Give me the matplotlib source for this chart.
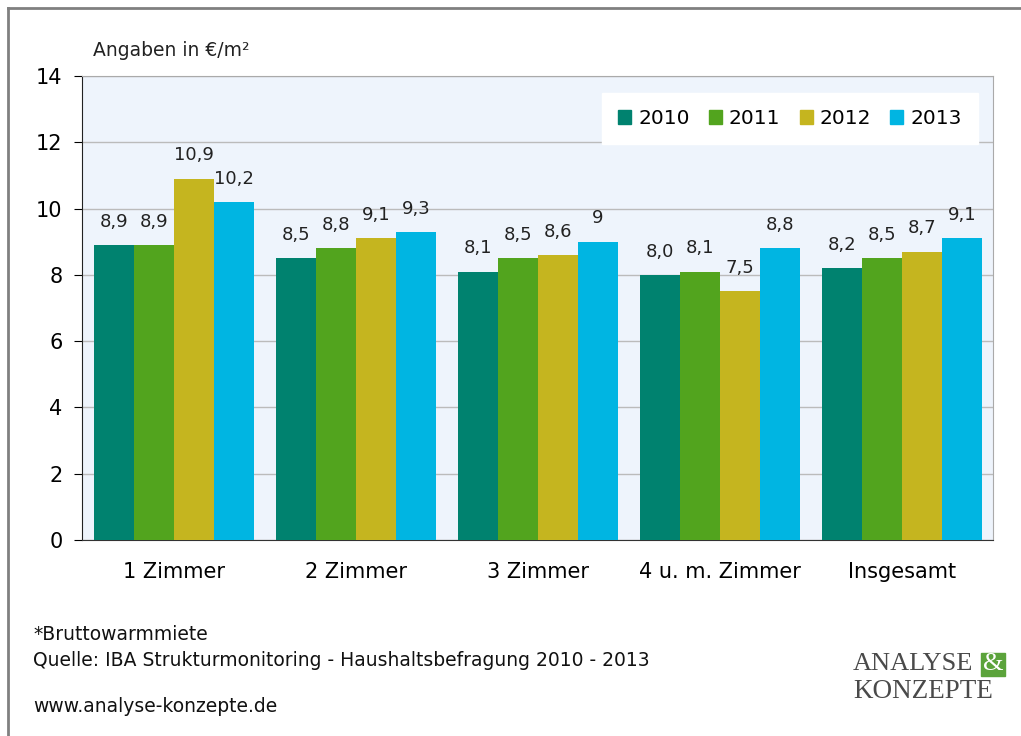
import numpy as np
import matplotlib.pyplot as plt
from matplotlib.patches import Rectangle
from matplotlib.lines import Line2D

categories = ['1 Zimmer', '2 Zimmer', '3 Zimmer', '4 u. m. Zimmer', 'Insgesamt']
years = ['2010', '2011', '2012', '2013']
v2010 = [8.9, 8.5, 8.1, 8.0, 8.2]
v2011 = [8.9, 8.8, 8.5, 8.1, 8.5]
v2012 = [10.9, 9.1, 8.6, 7.5, 8.7]
v2013 = [10.2, 9.3, 9.0, 8.8, 9.1]
labels2010 = ['8,9', '8,5', '8,1', '8,0', '8,2']
labels2011 = ['8,9', '8,8', '8,5', '8,1', '8,5']
labels2012 = ['10,9', '9,1', '8,6', '7,5', '8,7']
labels2013 = ['10,2', '9,3', '9', '8,8', '9,1']
colors = ['#00826F', '#52A41E', '#C5B51F', '#00B5E2']

plt.rcParams['font.family'] = 'DejaVu Sans'

fig = plt.figure(figsize=(10.21, 7.36), dpi=100)
ax = fig.add_axes([82 / 1021, 1 - 540 / 736, (993 - 82) / 1021, (540 - 76) / 736])
ax.set_facecolor('#EEF4FC')

x = np.arange(len(categories))
w = 0.22
series = [v2010, v2011, v2012, v2013]
series_labels = [labels2010, labels2011, labels2012, labels2013]
for i, (vals, labs) in enumerate(zip(series, series_labels)):
    pos = x + (i - 1.5) * w
    ax.bar(pos, vals, w, color=colors[i], label=years[i], zorder=3)
    for p, v, t in zip(pos, vals, labs):
        ax.text(p, v + 0.43, t, ha='center', va='bottom', fontsize=13, color='#222222')

ax.set_xlim(-0.505, 4.5)
ax.set_ylim(0, 14)
ax.set_yticks(range(0, 15, 2))
ax.set_xticks(x)
ax.set_xticklabels(categories, fontsize=15)
ax.tick_params(axis='x', length=0, pad=16)
ax.tick_params(axis='y', labelsize=15, length=6, direction='out', pad=8)
ax.yaxis.grid(True, color='#BBBBBB', linewidth=1, zorder=0)
ax.set_axisbelow(True)
for s in ['top', 'right']:
    ax.spines[s].set_color('#AAAAAA')
ax.spines['left'].set_color('#222222')
ax.spines['bottom'].set_color('#333333')

handles = [Rectangle((0, 0), 1, 1, color=c) for c in colors]
leg = ax.legend(handles, years, loc='upper right', ncol=4, fontsize=14.5,
                frameon=True, fancybox=False, bbox_to_anchor=(0.9835, 0.9635),
                handlelength=0.65, handleheight=0.65, columnspacing=0.95,
                handletextpad=0.35, borderpad=0.8, borderaxespad=0, framealpha=1)
leg.get_frame().set_facecolor('white')
leg.get_frame().set_edgecolor('white')

fig.text(93 / 1021, 1 - 50 / 736, 'Angaben in €/m²', fontsize=13.5, va='center', color='#222222')
fig.text(33 / 1021, 1 - 635 / 736, '*Bruttowarmmiete', fontsize=13.5, va='center', color='#111111')
fig.text(33 / 1021, 1 - 661 / 736, 'Quelle: IBA Strukturmonitoring - Haushaltsbefragung 2010 - 2013',
         fontsize=13.5, va='center', color='#111111')
fig.text(33 / 1021, 1 - 707 / 736, 'www.analyse-konzepte.de', fontsize=13.5, va='center', color='#111111')

# logo
fig.text(853 / 1021, 1 - 664 / 736, 'ANALYSE', family='Liberation Serif', fontsize=19,
         va='center', color='#4A4A4A')
fig.patches.append(Rectangle((981 / 1021, 1 - 676 / 736), 24 / 1021, 23 / 736,
                             transform=fig.transFigure, color='#5BA33B'))
fig.text(993 / 1021, 1 - 664 / 736, '&', family='Liberation Serif', fontsize=19,
         ha='center', va='center', color='white')
fig.text(853 / 1021, 1 - 691 / 736, 'KONZEPTE', family='Liberation Serif', fontsize=19.5,
         va='center', color='#4A4A4A')

# frame lines top and left
fig.add_artist(Line2D([8 / 1021, 1], [1 - 8 / 736, 1 - 8 / 736], transform=fig.transFigure,
                      color='#808080', linewidth=2))
fig.add_artist(Line2D([8 / 1021, 8 / 1021], [0, 1 - 8 / 736], transform=fig.transFigure,
                      color='#808080', linewidth=2))

fig.savefig('out.png', dpi=100)
